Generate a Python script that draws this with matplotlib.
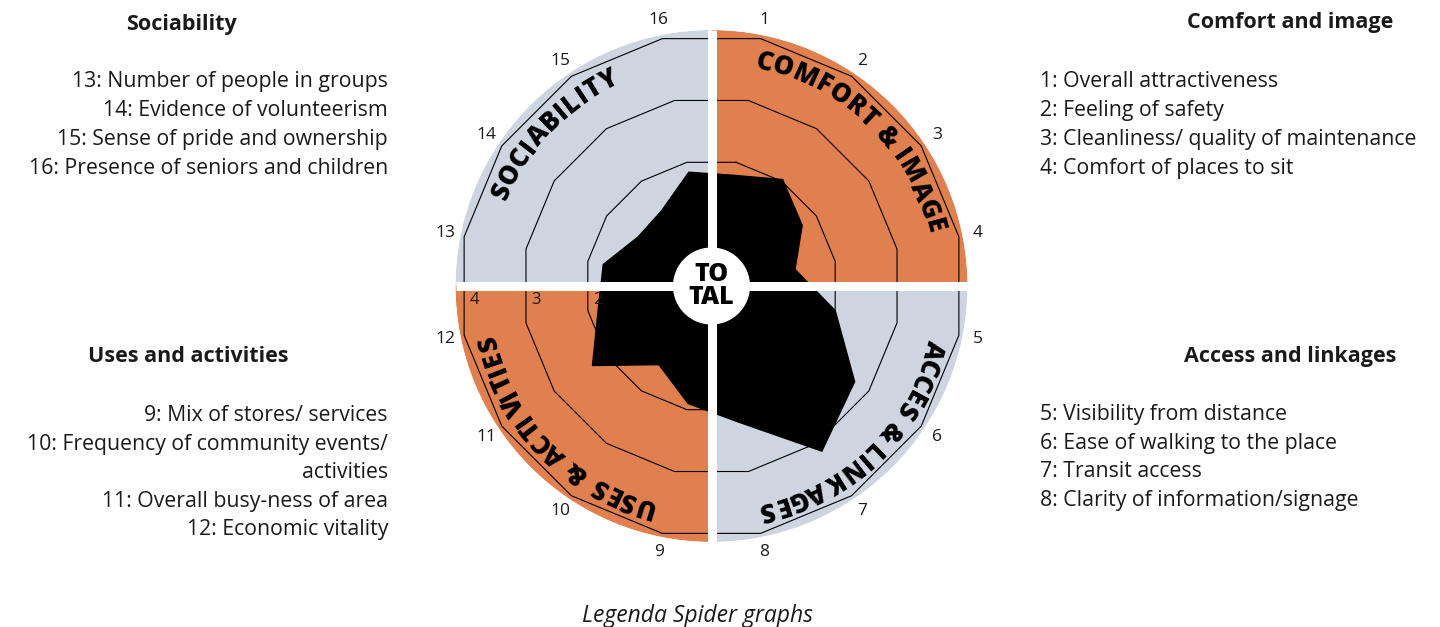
"""
Spider graph legend (Place Diagram style) - 16 criteria, 4 quadrants.
"""
import matplotlib
matplotlib.use('Agg')
import matplotlib.pyplot as plt
from matplotlib.font_manager import FontProperties
import numpy as np

W, H, DPI = 1440, 627, 100
FONT = 'Open Sans'
plt.rcParams['font.family'] = [FONT, 'DejaVu Sans']

ORANGE = '#E0804F'
GREY = '#CDD5E0'
INK = '#1a1a1a'

# ── Spider data ────────────────────────────────────────────────────────────
AXIS_IDS = list(range(1, 17))
SCORES = [1.79, 2.03, 1.73, 1.35, 2.00, 2.73, 3.15, 2.20,
          1.90, 1.50, 2.27, 1.83, 1.75, 1.40, 1.43, 1.84]
RING_LEVELS = [1, 2, 3, 4]
RING_LABELS = ['2', '3', '4']
R_MAX = 4.06

QUAD_NAMES = ['COMFORT & IMAGE', 'ACCES & LINKAGES', 'USES & ACTIVITIES', 'SOCIABILITY']
QUAD_COLORS = [ORANGE, GREY, ORANGE, GREY]
QUAD_CENTERS = [44, 136, 226, 314]   # degrees, clockwise from north

# ── Legend texts ───────────────────────────────────────────────────────────
SOC_TITLE = 'Sociability'
SOC_ITEMS = ['13: Number of people in groups',
             '14: Evidence of volunteerism',
             '15: Sense of pride and ownership',
             '16: Presence of seniors and children']
USE_TITLE = 'Uses and activities'
USE_ITEMS = ['9: Mix of stores/ services',
             '10: Frequency of community events/',
             'activities',
             '11: Overall busy-ness of area',
             '12: Economic vitality']
COM_TITLE = 'Comfort and image'
COM_ITEMS = ['1: Overall attractiveness',
             '2: Feeling of safety',
             '3: Cleanliness/ quality of maintenance',
             '4: Comfort of places to sit']
ACC_TITLE = 'Access and linkages'
ACC_ITEMS = ['5: Visibility from distance',
             '6: Ease of walking to the place',
             '7: Transit access',
             '8: Clarity of information/signage']
CAPTION = 'Legenda Spider graphs'


def fx(x):
    return x / W


def fy(y):
    return 1 - y / H


def arc_text(ax, renderer, text, center_deg, radius, r_px, size, track=1.0):
    fp = FontProperties(family=FONT, weight='heavy', size=size)
    right = []
    for k in range(1, len(text) + 1):
        w = renderer.get_text_width_height_descent(text[:k], fp, ismath=False)[0]
        right.append(w + track * (k - 1))
    total = right[-1]
    start = center_deg - np.degrees(total / 2 / r_px)
    for k, ch in enumerate(text):
        if ch == ' ':
            continue
        cw = renderer.get_text_width_height_descent(ch, fp, ismath=False)[0]
        c = right[k] - cw / 2
        ang = start + np.degrees(c / r_px)
        ax.text(np.radians(ang), radius, ch, fontproperties=fp, color='black',
                rotation=-ang, rotation_mode='anchor',
                ha='center', va='center', zorder=7)


fig = plt.figure(figsize=(W / DPI, H / DPI), dpi=DPI)
renderer = fig.canvas.get_renderer()

CX, CY, R_PX = 711.5, 286, 256
ax = fig.add_axes([fx(CX - R_PX), fy(CY + R_PX), 2 * R_PX / W, 2 * R_PX / H],
                  projection='polar')
ax.set_theta_zero_location('N')
ax.set_theta_direction(-1)
ax.set_ylim(0, R_MAX)
ax.set_axis_off()

n = len(AXIS_IDS)
angles = np.radians(11.25 + 22.5 * np.arange(n))
closed = np.append(angles, angles[0])

# quadrant sectors
ax.bar(np.radians([45, 135, 225, 315]), R_MAX, width=np.pi / 2, bottom=0,
       color=QUAD_COLORS, edgecolor='none', zorder=1)

# grid polygons
for lvl in RING_LEVELS:
    ax.plot(closed, [lvl] * (n + 1), color='black', lw=0.8, zorder=2)

# data polygon
ax.fill(angles, SCORES, color='black', zorder=3)

# white cross
for t in [0, np.pi / 2, np.pi, 3 * np.pi / 2]:
    ax.plot([t, t], [0, R_MAX], color='white', lw=6.5,
            solid_capstyle='butt', zorder=4)

# center disk
circ = np.linspace(0, 2 * np.pi, 200)
ax.fill(circ, np.full(200, 0.6), color='white', zorder=5)
ax.text(0, 0, 'TO\nTAL', ha='center', va='center', fontsize=18,
        fontweight='heavy', linespacing=0.9, color='black', zorder=6)

# axis numbers
for ang, idx in zip(angles, AXIS_IDS):
    ax.text(ang, 4.3, str(idx), ha='center', va='center', fontsize=12.5,
            color=INK, zorder=6)

# ring value labels on the west axis
for lbl in RING_LABELS:
    lvl = float(lbl)
    ax.annotate(lbl, xy=(3 * np.pi / 2, lvl * np.cos(np.pi / 16)),
                xytext=(4, -4), textcoords='offset points',
                ha='left', va='top', fontsize=12, color=INK, zorder=6)

# curved quadrant names
for name, c in zip(QUAD_NAMES, QUAD_CENTERS):
    arc_text(ax, renderer, name, c, 3.64, 3.64 * R_PX / R_MAX, 18.5)

# ── side legends ──────────────────────────────────────────────────────────
def block(title, items, title_x, title_y, x, y0, ha, step=29):
    fig.text(fx(title_x), fy(title_y), title, ha='center', va='baseline',
             fontsize=15.5, fontweight='bold', color=INK)
    for i, s in enumerate(items):
        fig.text(fx(x), fy(y0 + i * step), s, ha=ha, va='baseline',
                 fontsize=15.3, color=INK)


block(SOC_TITLE, SOC_ITEMS, 181, 30, 388, 87, 'right')
block(USE_TITLE, USE_ITEMS, 188, 362, 388, 421, 'right', step=28.6)
block(COM_TITLE, COM_ITEMS, 1290, 28, 1040, 87, 'left')
block(ACC_TITLE, ACC_ITEMS, 1290, 362, 1040, 420, 'left', step=28.6)

fig.text(fx(697), fy(622), CAPTION, ha='center', va='baseline',
         fontsize=16.5, style='italic', color=INK)

fig.savefig('out.png', dpi=DPI)
